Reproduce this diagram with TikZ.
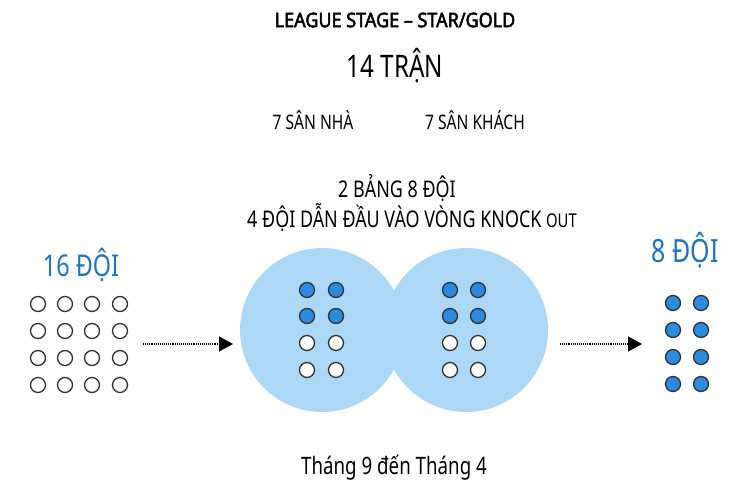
\documentclass[tikz,border=0pt]{standalone}
\usepackage{fontspec}
\setmainfont{Noto Sans}[FakeStretch=0.78]
\newfontfamily\tfont{Noto Sans}[FakeStretch=0.9,FakeBold=2.5]
\usetikzlibrary{arrows.meta}
\definecolor{bl}{HTML}{1E73BE}
\definecolor{dotb}{HTML}{2A8BE0}
\definecolor{circ}{HTML}{ADD8F5}
\begin{document}
\begin{tikzpicture}[x=1pt,y=-1pt,
  od/.style={circle,draw=black!80,line width=1.3pt,fill=white,minimum size=15pt,inner sep=0pt},
  fd/.style={od,fill=dotb},
  ar/.style={densely dotted,line width=1.1pt,-{Triangle[length=14pt,width=15pt]}},
  tx/.style={inner sep=0pt,anchor=center}]
\useasboundingbox (0,0) rectangle (740,495);
\fill[circ] (322,330) circle (82);
\fill[circ] (466,330) circle (82);
\node[tx,font=\tfont\fontsize{20}{22}\selectfont] (t1) at (395,20) {LEAGUE STAGE – STAR/GOLD};
\node[tx,font=\fontsize{31}{33}\selectfont] (t2) at (395,66) {14 TRẬN};
\node[tx,font=\fontsize{20}{22}\selectfont] (t3) at (313,120) {7 SÂN NHÀ};
\node[tx,font=\fontsize{20}{22}\selectfont] (t4) at (475,120) {7 SÂN KHÁCH};
\node[tx,font=\fontsize{23}{25}\selectfont] (t5) at (397,188) {2 BẢNG 8 ĐỘI};
\node[tx,font=\fontsize{23}{25}\selectfont] (t6) at (412,217) {4 ĐỘI DẪN ĐẦU VÀO VÒNG KNOCK {\fontsize{19}{21}\selectfont OUT}};
\node[tx,font=\fontsize{30}{32}\selectfont,text=bl] (t7) at (81,265) {16 ĐỘI};
\node[tx,font=\fontsize{32}{34}\selectfont,text=bl] (t8) at (685,250) {8 ĐỘI};
\node[tx,font=\fontsize{24}{26}\selectfont] (t9) at (394,468) {Tháng 9 đến Tháng 4};
\foreach \r/\y in {1/304,2/331,3/358,4/385}{
  \foreach \c/\x in {1/38,2/65,3/92,4/120}{\node[od] (l\r\c) at (\x,\y) {};}}
\foreach \r/\y/\s in {1/290/fd,2/316/fd,3/343/od,4/370/od}{
  \node[\s] (a\r1) at (307,\y) {}; \node[\s] (a\r2) at (336,\y) {};
  \node[\s] (b\r1) at (450,\y) {}; \node[\s] (b\r2) at (478,\y) {};}
\foreach \r/\y in {1/303,2/330,3/357,4/384}{
  \node[fd] (c\r1) at (673,\y) {}; \node[fd] (c\r2) at (701,\y) {};}
\coordinate (s1) at (143,344); \coordinate (e1) at (233,344);
\coordinate (s2) at (560,344); \coordinate (e2) at (642,344);
\draw[ar] (s1) -- (e1);
\draw[ar] (s2) -- (e2);
\end{tikzpicture}
\end{document}
